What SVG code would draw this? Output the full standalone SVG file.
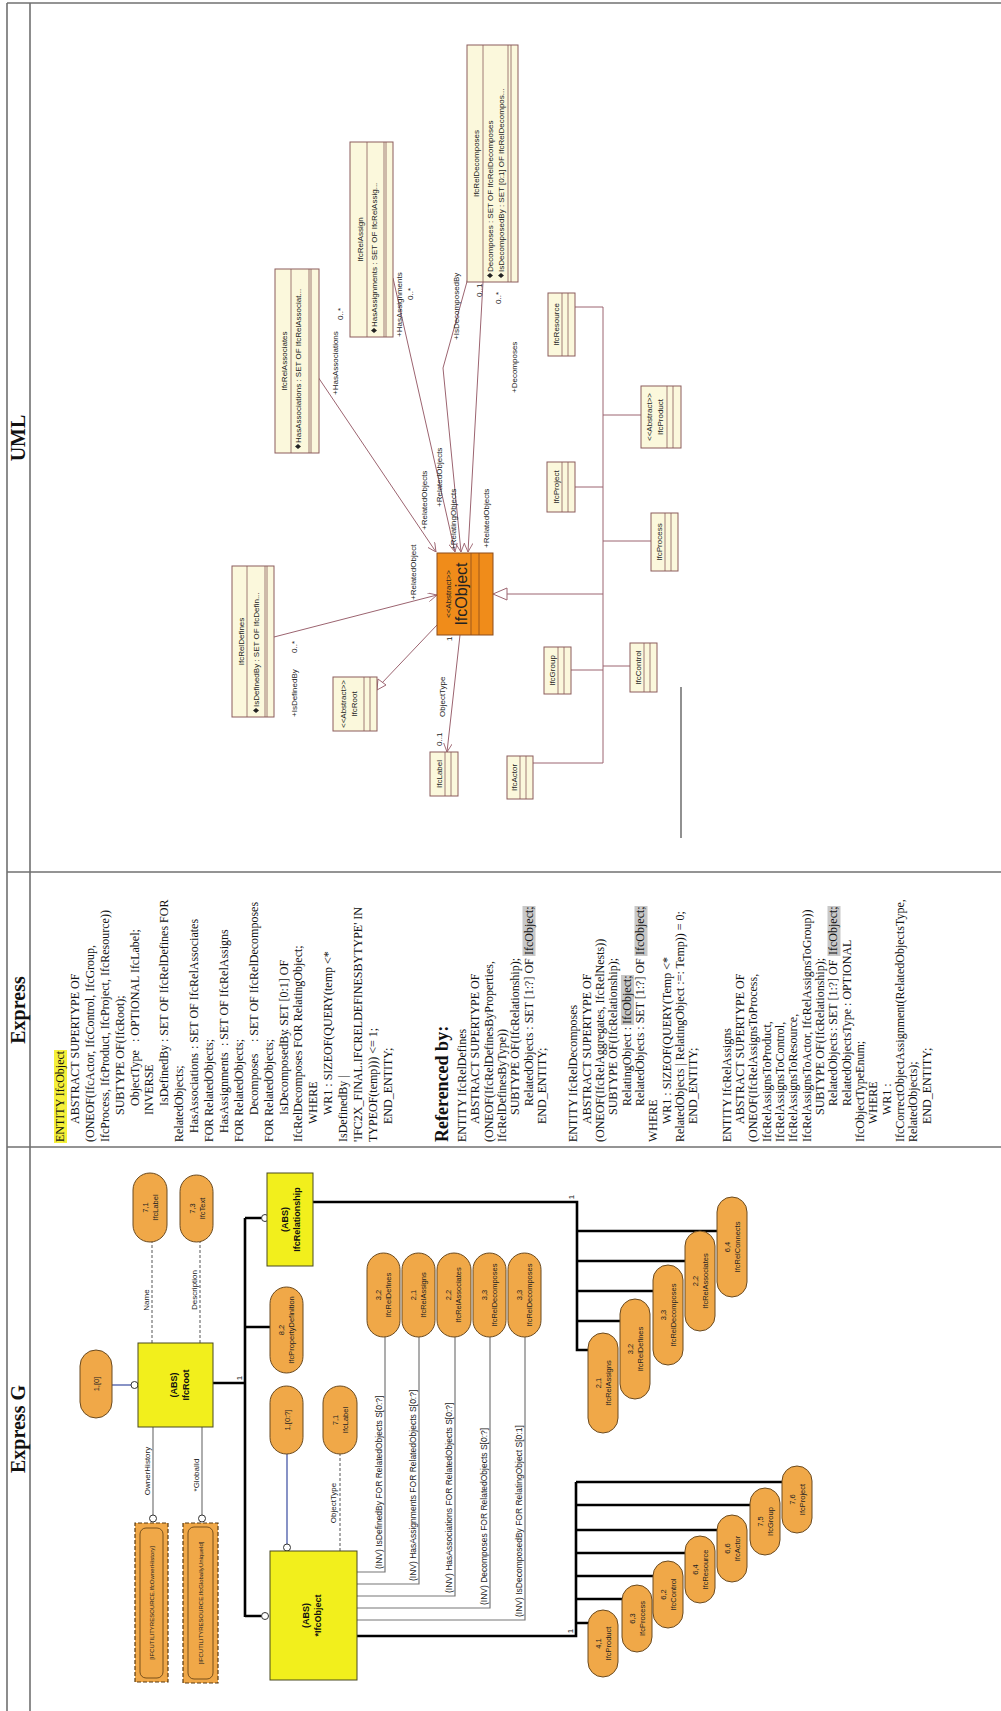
<svg xmlns="http://www.w3.org/2000/svg" width="1001" height="1711" viewBox="0 0 1001 1711">
<defs>
<style>
.fr{stroke:#707070;stroke-width:1.6;fill:none}
.hdr{font-family:"Liberation Serif",serif;font-weight:bold;font-size:20px;text-anchor:middle;fill:#111}
.ex{font-family:"Liberation Serif",serif;font-size:12px;fill:#111}
.ref{font-family:"Liberation Serif",serif;font-size:18px;font-weight:bold;fill:#111}
.yb{fill:#f2ef1c;stroke:#4a4a20;stroke-width:1}
.pill{fill:#f0a848;stroke:#6a4a20;stroke-width:1}
.dbox{fill:#f0a848;stroke:#5a3a10;stroke-width:1.2;stroke-dasharray:4 2}
.inr{fill:none;stroke:#5a3a10;stroke-width:0.8}
.thick{stroke:#000;stroke-width:2.6;fill:none}
.thin{stroke:#777;stroke-width:1.2;fill:none}
.blue{stroke:#4858a8;stroke-width:1.3;fill:none}
.dash{stroke:#555;stroke-width:1;stroke-dasharray:3 2;fill:none}
.circ{fill:#fff;stroke:#333;stroke-width:1}
.bt{font-family:"Liberation Sans",sans-serif;font-weight:bold;font-size:9px;text-anchor:middle;fill:#111}
.pt{font-family:"Liberation Sans",sans-serif;font-size:7.5px;text-anchor:middle;fill:#222}
.lt{font-family:"Liberation Sans",sans-serif;font-size:8px;text-anchor:middle;fill:#222}
.it{font-family:"Liberation Sans",sans-serif;font-size:8.5px;fill:#222}
.st{font-family:"Liberation Sans",sans-serif;font-size:6px;text-anchor:middle;fill:#222}
.uml{fill:#fbf8dc;stroke:#8c5c5c;stroke-width:1}
.uo{fill:#f08c1a;stroke:#8c4c1c;stroke-width:1}
.ud{stroke:#8c5c5c;stroke-width:0.8;fill:none}
.ul{stroke:#9c6470;stroke-width:1;fill:none}
.ut{font-family:"Liberation Sans",sans-serif;font-size:8px;fill:#222}
.utc{font-family:"Liberation Sans",sans-serif;font-size:8px;fill:#222;text-anchor:middle}
</style>
<marker id="oa" viewBox="0 0 10 10" refX="10" refY="5" markerWidth="9" markerHeight="9" orient="auto" markerUnits="userSpaceOnUse">
<path d="M0,0 L10,5 L0,10" fill="none" stroke="#9c6470" stroke-width="1"/>
</marker>
</defs>
<rect x="0" y="0" width="1001" height="1711" fill="#fff"/>
<g transform="translate(0,1711) rotate(-90)">

<g id="frame">
<line class="fr" x1="0" y1="7" x2="1708" y2="7"/>
<line class="fr" x1="0" y1="30" x2="1708" y2="30"/>
<line class="fr" x1="1708" y1="7" x2="1708" y2="1001"/>
<line class="fr" x1="564" y1="7" x2="564" y2="1001"/>
<line class="fr" x1="839" y1="7" x2="839" y2="1001"/>
<text class="hdr" x="282" y="25">Express G</text>
<text class="hdr" x="701" y="25">Express</text>
<text class="hdr" x="1273" y="25">UML</text>
</g>

<g id="expressg-connectors">
<path class="blue" d="M326,112 V131"/>
<circle class="circ" cx="326" cy="134.5" r="3.5"/>
<path class="dash" d="M368,152 H469"/>
<path class="dash" d="M368,200 H469"/>
<path class="thin" d="M284,153 H196"/>
<circle class="circ" cx="192.5" cy="153" r="3.5"/>
<path class="thin" d="M284,202 H196"/>
<circle class="circ" cx="192.5" cy="202" r="3.5"/>
<path class="thick" d="M328,213 V245 M94,245 H493 M493,245 V261.5 M384,245 V270 M95,245 V261.5"/>
<circle class="circ" cx="493" cy="265" r="3.5"/>
<circle class="circ" cx="95" cy="265" r="3.5"/>
<path class="thick" d="M509,313 V577 H361 V588 M390,577 V620 M420,577 V653 M450,577 V685 M480,577 V717"/>
<path class="blue" d="M257,287 H167"/>
<circle class="circ" cx="163.5" cy="287" r="3.5"/>
<path class="dash" d="M160,340 H257"/>
<path class="thin" d="M139,357 V385 H374 M127,357 V419 H374 M115,357 V455 H374 M103,357 V490 H374 M91,357 V525 H374"/>
<path class="thick" d="M75,357 V576 H229 M88,576 V588 M112,576 V622 M135,576 V653 M158,576 V685 M181,576 V717 M206,576 V750 M229,576 V782"/>
<text class="lt" x="240" y="150">OwnerHistory</text>
<text class="lt" x="236" y="199">*GlobalId</text>
<text class="lt" x="411" y="149">Name</text>
<text class="lt" x="421" y="197">Description</text>
<text class="lt" x="333" y="242">1</text>
<text class="lt" x="514" y="574">1</text>
<text class="lt" x="80" y="573">1</text>
<text class="lt" x="208" y="336">ObjectType</text>
<text class="it" x="142" y="382">(INV) IsDefinedBy  FOR  RelatedObjects   S[0:?]</text>
<text class="it" x="130" y="416">(INV) HasAssignments  FOR  RelatedObjects   S[0:?]</text>
<text class="it" x="118" y="452">(INV) HasAssociations  FOR  RelatedObjects   S[0:?]</text>
<text class="it" x="106" y="487">(INV) Decomposes  FOR  RelatedObjects   S[0:?]</text>
<text class="it" x="94" y="522">(INV) IsDecomposedBy  FOR  RelatingObject   S[0:1]</text>
</g>

<g id="eg-ifcroot"><rect class="yb" x="284" y="138" width="84" height="75"/><text class="bt" x="326" y="177">(ABS)</text><text class="bt" x="326" y="189">IfcRoot</text></g>
<g id="eg-root-ref"><rect class="pill" x="293" y="80" width="68" height="32" rx="16"/><text class="pt" x="327" y="99">1,[0]</text></g>
<g id="eg-label1"><rect class="pill" x="469" y="133" width="69" height="34" rx="17"/><text class="pt" x="503.5" y="148">7,1</text><text class="pt" x="503.5" y="158">IfcLabel</text></g>
<g id="eg-text"><rect class="pill" x="469" y="180" width="67" height="33" rx="16.5"/><text class="pt" x="502.5" y="195">7,3</text><text class="pt" x="502.5" y="205">IfcText</text></g>
<g id="eg-ownerhistory"><rect class="dbox" x="29" y="135" width="159" height="33"/><rect class="inr" x="33" y="140" width="150" height="23" rx="6"/><text class="st" x="108" y="154">[IFCUTILITYRESOURCE.IfcOwnerHistory]</text></g>
<g id="eg-globalid"><rect class="dbox" x="28" y="183" width="160" height="35"/><rect class="inr" x="32" y="188" width="152" height="25" rx="6"/><text class="st" x="108" y="203">[IFCUTILITYRESOURCE.IfcGloballyUniqueId]</text></g>
<g id="eg-ifcrelationship"><rect class="yb" x="445" y="267" width="93" height="46"/><text class="bt" x="491.5" y="288">(ABS)</text><text class="bt" x="491.5" y="300">IfcRelationship</text></g>
<g id="eg-propdef"><rect class="pill" x="338" y="270" width="86" height="33" rx="16.5"/><text class="pt" x="381" y="284">8,2</text><text class="pt" x="381" y="294">IfcPropertyDefinition</text></g>
<g id="eg-r-assigns"><rect class="pill" x="278" y="588" width="100" height="30" rx="15"/><text class="pt" x="328" y="601">2,1</text><text class="pt" x="328" y="611">IfcRelAssigns</text></g>
<g id="eg-r-defines"><rect class="pill" x="312" y="620" width="100" height="30" rx="15"/><text class="pt" x="362" y="633">3,2</text><text class="pt" x="362" y="643">IfcRelDefines</text></g>
<g id="eg-r-decomposes"><rect class="pill" x="346" y="653" width="100" height="30" rx="15"/><text class="pt" x="396" y="666">3,3</text><text class="pt" x="396" y="676">IfcRelDecomposes</text></g>
<g id="eg-r-associates"><rect class="pill" x="380" y="685" width="100" height="30" rx="15"/><text class="pt" x="430" y="698">2,2</text><text class="pt" x="430" y="708">IfcRelAssociates</text></g>
<g id="eg-r-connects"><rect class="pill" x="414" y="717" width="100" height="30" rx="15"/><text class="pt" x="464" y="730">6,4</text><text class="pt" x="464" y="740">IfcRelConnects</text></g>
<g id="eg-ifcobject"><rect class="yb" x="31" y="270" width="129" height="87"/><text class="bt" x="95.5" y="309">(ABS)</text><text class="bt" x="95.5" y="321">*IfcObject</text></g>
<g id="eg-obj-ref"><rect class="pill" x="257" y="270" width="68" height="33" rx="16.5"/><text class="pt" x="291" y="290">1,[0:?]</text></g>
<g id="eg-label2"><rect class="pill" x="257" y="323" width="68" height="34" rx="17"/><text class="pt" x="291" y="338">7,1</text><text class="pt" x="291" y="348">IfcLabel</text></g>
<g id="eg-inv-defines"><rect class="pill" x="374" y="367" width="84" height="33" rx="16.5"/><text class="pt" x="416" y="381">3,2</text><text class="pt" x="416" y="391">IfcRelDefines</text></g>
<g id="eg-inv-assigns"><rect class="pill" x="374" y="402" width="84" height="33" rx="16.5"/><text class="pt" x="416" y="416">2,1</text><text class="pt" x="416" y="426">IfcRelAssigns</text></g>
<g id="eg-inv-associates"><rect class="pill" x="374" y="437" width="84" height="34" rx="17"/><text class="pt" x="416" y="451">2,2</text><text class="pt" x="416" y="461">IfcRelAssociates</text></g>
<g id="eg-inv-decomposes1"><rect class="pill" x="374" y="473" width="84" height="33" rx="16.5"/><text class="pt" x="416" y="487">3,3</text><text class="pt" x="416" y="497">IfcRelDecomposes</text></g>
<g id="eg-inv-decomposes2"><rect class="pill" x="374" y="508" width="84" height="33" rx="16.5"/><text class="pt" x="416" y="522">3,3</text><text class="pt" x="416" y="532">IfcRelDecomposes</text></g>
<g id="eg-product"><rect class="pill" x="34" y="588" width="67" height="30" rx="15"/><text class="pt" x="67.5" y="601">4,1</text><text class="pt" x="67.5" y="611">IfcProduct</text></g>
<g id="eg-process"><rect class="pill" x="59" y="622" width="67" height="30" rx="15"/><text class="pt" x="92.5" y="635">6,3</text><text class="pt" x="92.5" y="645">IfcProcess</text></g>
<g id="eg-control"><rect class="pill" x="83" y="653" width="67" height="30" rx="15"/><text class="pt" x="116.5" y="666">6,2</text><text class="pt" x="116.5" y="676">IfcControl</text></g>
<g id="eg-resource"><rect class="pill" x="108" y="685" width="67" height="30" rx="15"/><text class="pt" x="141.5" y="698">6,4</text><text class="pt" x="141.5" y="708">IfcResource</text></g>
<g id="eg-actor"><rect class="pill" x="129" y="717" width="67" height="30" rx="15"/><text class="pt" x="162.5" y="730">6,6</text><text class="pt" x="162.5" y="740">IfcActor</text></g>
<g id="eg-group"><rect class="pill" x="156" y="750" width="67" height="30" rx="15"/><text class="pt" x="189.5" y="763">7,5</text><text class="pt" x="189.5" y="773">IfcGroup</text></g>
<g id="eg-project"><rect class="pill" x="178" y="782" width="67" height="30" rx="15"/><text class="pt" x="211.5" y="795">7,6</text><text class="pt" x="211.5" y="805">IfcProject</text></g>

<g id="express-text">
<rect x="568" y="54" width="93" height="13" fill="#f5f03a"/>
<rect x="755" y="522.5" width="50" height="13" fill="#c8c8c8"/>
<rect x="686" y="621" width="50" height="13" fill="#c8c8c8"/>
<rect x="755" y="634.5" width="50" height="13" fill="#c8c8c8"/>
<rect x="755" y="827.5" width="50" height="13" fill="#c8c8c8"/>
<text class="ex" x="569" y="64">ENTITY IfcObject</text>
<text class="ex" x="587" y="78.9">ABSTRACT SUPERTYPE OF</text>
<text class="ex" x="569" y="93.8">(ONEOF(IfcActor, IfcControl, IfcGroup,</text>
<text class="ex" x="569" y="108.7">IfcProcess, IfcProduct, IfcProject, IfcResource))</text>
<text class="ex" x="596" y="123.6">SUBTYPE OF(IfcRoot);</text>
<text class="ex" y="138.5"><tspan x="605">ObjectType</tspan><tspan x="669">: OPTIONAL IfcLabel;</tspan></text>
<text class="ex" x="596" y="153.4">INVERSE</text>
<text class="ex" y="168.3"><tspan x="605">IsDefinedBy</tspan><tspan x="669">: SET OF IfcRelDefines FOR</tspan></text>
<text class="ex" x="569" y="183.2">RelatedObjects;</text>
<text class="ex" y="198.1"><tspan x="578">HasAssociations</tspan><tspan x="662">: SET OF IfcRelAssociates</tspan></text>
<text class="ex" x="569" y="213">FOR RelatedObjects;</text>
<text class="ex" y="227.9"><tspan x="578">HasAssignments</tspan><tspan x="665">: SET OF IfcRelAssigns</tspan></text>
<text class="ex" x="569" y="242.8">FOR RelatedObjects;</text>
<text class="ex" y="257.7"><tspan x="596">Decomposes</tspan><tspan x="669">: SET OF IfcRelDecomposes</tspan></text>
<text class="ex" x="569" y="272.6">FOR RelatedObjects;</text>
<text class="ex" y="287.5"><tspan x="596">IsDecomposedBy</tspan><tspan x="679">: SET [0:1] OF</tspan></text>
<text class="ex" x="569" y="302.4">IfcRelDecomposes FOR RelatingObject;</text>
<text class="ex" x="587" y="317.3">WHERE</text>
<text class="ex" x="596" y="332.2">WR1 : SIZEOF(QUERY(temp &lt;*</text>
<text class="ex" x="569" y="347.1">IsDefinedBy |</text>
<text class="ex" x="569" y="362">'IFC2X_FINAL.IFCRELDEFINESBYTYPE' IN</text>
<text class="ex" x="569" y="376.9">TYPEOF(temp))) &lt;= 1;</text>
<text class="ex" x="587" y="391.8">END_ENTITY;</text>
<text class="ref" x="569" y="448">Referenced by:</text>
<text class="ex" x="569" y="466">ENTITY IfcRelDefines</text>
<text class="ex" x="587" y="479.3">ABSTRACT SUPERTYPE OF</text>
<text class="ex" x="569" y="492.7">(ONEOF(IfcRelDefinesByProperties,</text>
<text class="ex" x="569" y="506">IfcRelDefinesByType))</text>
<text class="ex" x="596" y="519.3">SUBTYPE OF(IfcRelationship);</text>
<text class="ex" y="532.7"><tspan x="605">RelatedObjects : SET [1:?] OF </tspan><tspan x="756">IfcObject;</tspan></text>
<text class="ex" x="587" y="546">END_ENTITY;</text>
<text class="ex" x="569" y="577.3">ENTITY IfcRelDecomposes</text>
<text class="ex" x="587" y="590.7">ABSTRACT SUPERTYPE OF</text>
<text class="ex" x="569" y="604">(ONEOF(IfcRelAggregates, IfcRelNests))</text>
<text class="ex" x="596" y="617.3">SUBTYPE OF(IfcRelationship);</text>
<text class="ex" y="630.7"><tspan x="605">RelatingObject : </tspan><tspan x="687">IfcObject;</tspan></text>
<text class="ex" y="644"><tspan x="605">RelatedObjects : SET [1:?] OF </tspan><tspan x="756">IfcObject;</tspan></text>
<text class="ex" x="569" y="657.3">WHERE</text>
<text class="ex" x="587" y="670.7">WR1 : SIZEOF(QUERY(Temp &lt;*</text>
<text class="ex" x="569" y="684">RelatedObjects | RelatingObject :=: Temp)) = 0;</text>
<text class="ex" x="587" y="697.3">END_ENTITY;</text>
<text class="ex" x="569" y="730.7">ENTITY IfcRelAssigns</text>
<text class="ex" x="587" y="744">ABSTRACT SUPERTYPE OF</text>
<text class="ex" x="569" y="757.3">(ONEOF(IfcRelAssignsToProcess,</text>
<text class="ex" x="569" y="770.7">IfcRelAssignsToProduct,</text>
<text class="ex" x="569" y="784">IfcRelAssignsToControl,</text>
<text class="ex" x="569" y="797.3">IfcRelAssignsToResource,</text>
<text class="ex" x="569" y="810.7">IfcRelAssignsToActor, IfcRelAssignsToGroup))</text>
<text class="ex" x="596" y="824">SUBTYPE OF(IfcRelationship);</text>
<text class="ex" y="837.3"><tspan x="605">RelatedObjects</tspan><tspan x="680">: SET [1:?] OF </tspan><tspan x="756">IfcObject;</tspan></text>
<text class="ex" x="605" y="850.7">RelatedObjectsType : OPTIONAL</text>
<text class="ex" x="569" y="864">IfcObjectTypeEnum;</text>
<text class="ex" x="587" y="877.3">WHERE</text>
<text class="ex" x="596" y="890.7">WR1 :</text>
<text class="ex" x="569" y="904">IfcCorrectObjectAssignment(RelatedObjectsType,</text>
<text class="ex" x="569" y="917.3">RelatedObjects);</text>
<text class="ex" x="587" y="930.7">END_ENTITY;</text>
</g>

<g id="uml-connectors">
<polyline class="ul" points="1433,468 1343,443 1159,461" marker-end="url(#oa)"/>
<line class="ul" x1="1429" y1="483" x2="1159" y2="468" marker-end="url(#oa)"/>
<line class="ul" x1="1433" y1="393" x2="1159" y2="455" marker-end="url(#oa)"/>
<line class="ul" x1="1334" y1="318" x2="1159" y2="436" marker-end="url(#oa)"/>
<line class="ul" x1="1074" y1="274" x2="1116" y2="437" marker-end="url(#oa)"/>
<line class="ul" x1="1086" y1="437" x2="1027" y2="381"/>
<polygon points="1021,377 1032,378 1026,386" fill="#fff" stroke="#9c6470"/>
<line class="ul" x1="1076" y1="460" x2="959" y2="447" marker-end="url(#oa)"/>
<line class="ul" x1="1117" y1="507" x2="1117" y2="603"/>
<polygon points="1117,493 1111,507 1123,507" fill="#fff" stroke="#9c6470"/>
<path class="ul" d="M1404,603 H948 M1404,575 V603 M1296,603 V641 M1224,575 V603 M1170,603 V651 M1041,571 V603 M1045,603 V630 M948,533 V603"/>
<line x1="873" y1="681" x2="1024" y2="681" stroke="#555" stroke-width="1.3"/>
<text class="ut" x="1371" y="459">+IsDecomposedBy</text>
<text class="ut" x="1414" y="482">0..1</text>
<text class="ut" x="1407" y="501">0..*</text>
<text class="ut" x="1318" y="517">+Decomposes</text>
<text class="ut" x="1161" y="456">+RelatingObjects</text>
<text class="ut" x="1163" y="489">+RelatedObjects</text>
<text class="ut" x="1374" y="402">+HasAssignments</text>
<text class="ut" x="1411" y="413">0..*</text>
<text class="ut" x="1316" y="338">+HasAssociations</text>
<text class="ut" x="1391" y="343">0..*</text>
<text class="ut" x="1181" y="427">+RelatedObjects</text>
<text class="ut" x="1204" y="442">+RelatedObjects</text>
<text class="ut" x="1111" y="416">+RelatedObject</text>
<text class="ut" x="994" y="297">+IsDefinedBy</text>
<text class="ut" x="1058" y="297">0..*</text>
<text class="ut" x="994" y="445">ObjectType</text>
<text class="ut" x="1070" y="452">1</text>
<text class="ut" x="965" y="442">0..1</text>
</g>

<g id="uml-reldecomposes"><rect class="uml" x="1429" y="467" width="237" height="51"/><line class="ud" x1="1429" y1="483" x2="1666" y2="483"/><line class="ud" x1="1429" y1="508" x2="1666" y2="508"/><line class="ud" x1="1429" y1="511" x2="1666" y2="511"/><text class="utc" x="1547.5" y="479">IfcRelDecomposes</text><polygon points="1433,490 1435.5,487 1438,490 1435.5,493" fill="#222"/><text class="ut" x="1439" y="493">Decomposes      : SET OF IfcRelDecomposes</text><polygon points="1433,501 1435.5,498 1438,501 1435.5,504" fill="#222"/><text class="ut" x="1439" y="504">IsDecomposedBy : SET [0:1] OF IfcRelDecompos...</text></g>
<g id="uml-relassign"><rect class="uml" x="1374" y="350" width="195" height="43"/><line class="ud" x1="1374" y1="367" x2="1569" y2="367"/><line class="ud" x1="1374" y1="384" x2="1569" y2="384"/><line class="ud" x1="1374" y1="386" x2="1569" y2="386"/><text class="utc" x="1471.5" y="363">IfcRelAssign</text><polygon points="1378,374 1380.5,371 1383,374 1380.5,377" fill="#222"/><text class="ut" x="1384" y="377">HasAssignments : SET OF IfcRelAssig...</text></g>
<g id="uml-relassociates"><rect class="uml" x="1258" y="275" width="184" height="44"/><line class="ud" x1="1258" y1="291" x2="1442" y2="291"/><line class="ud" x1="1258" y1="309" x2="1442" y2="309"/><line class="ud" x1="1258" y1="311" x2="1442" y2="311"/><text class="utc" x="1350" y="287">IfcRelAssociates</text><polygon points="1262,298 1264.5,295 1267,298 1264.5,301" fill="#222"/><text class="ut" x="1268" y="301">HasAssociations : SET OF IfcRelAssociat...</text></g>
<g id="uml-reldefines"><rect class="uml" x="994" y="232" width="151" height="42"/><line class="ud" x1="994" y1="247" x2="1145" y2="247"/><line class="ud" x1="994" y1="265" x2="1145" y2="265"/><line class="ud" x1="994" y1="267" x2="1145" y2="267"/><text class="utc" x="1069.5" y="244">IfcRelDefines</text><polygon points="998,256 1000.5,253 1003,256 1000.5,259" fill="#222"/><text class="ut" x="1004" y="259">IsDefinedBy : SET OF IfcDefin...</text></g>
<g id="uml-ifcobject"><rect class="uo" x="1076" y="437" width="82" height="56"/><line stroke="#8c4c1c" stroke-width="0.8" x1="1076" y1="471" x2="1158" y2="471"/><line stroke="#8c4c1c" stroke-width="0.8" x1="1076" y1="479" x2="1158" y2="479"/><text class="utc" x="1117" y="451" font-size="7.5">&lt;&lt;Abstract&gt;&gt;</text><text class="utc" x="1117" y="467" style="font-size:16px">IfcObject</text></g>
<g id="uml-ifcroot"><rect class="uml" x="980" y="333" width="54" height="44"/><line class="ud" x1="980" y1="364" x2="1034" y2="364"/><line class="ud" x1="980" y1="370" x2="1034" y2="370"/><text class="utc" x="1007" y="346">&lt;&lt;Abstract&gt;&gt;</text><text class="utc" x="1007" y="357">IfcRoot</text></g>
<g id="uml-ifclabel"><rect class="uml" x="915" y="430" width="44" height="28"/><line class="ud" x1="915" y1="445" x2="959" y2="445"/><line class="ud" x1="915" y1="451" x2="959" y2="451"/><text class="utc" x="937" y="442">IfcLabel</text></g>
<g id="uml-resource"><rect class="uml" x="1355" y="548" width="63" height="27"/><line class="ud" x1="1355" y1="562" x2="1418" y2="562"/><line class="ud" x1="1355" y1="568" x2="1418" y2="568"/><text class="utc" x="1386.5" y="559">IfcResource</text></g>
<g id="uml-product"><rect class="uml" x="1263" y="641" width="62" height="40"/><line class="ud" x1="1263" y1="667" x2="1325" y2="667"/><line class="ud" x1="1263" y1="673" x2="1325" y2="673"/><text class="utc" x="1294" y="652">&lt;&lt;Abstract&gt;&gt;</text><text class="utc" x="1294" y="663">IfcProduct</text></g>
<g id="uml-project"><rect class="uml" x="1199" y="547" width="50" height="28"/><line class="ud" x1="1199" y1="562" x2="1249" y2="562"/><line class="ud" x1="1199" y1="568" x2="1249" y2="568"/><text class="utc" x="1224" y="559">IfcProject</text></g>
<g id="uml-process"><rect class="uml" x="1140" y="651" width="58" height="27"/><line class="ud" x1="1140" y1="665" x2="1198" y2="665"/><line class="ud" x1="1140" y1="671" x2="1198" y2="671"/><text class="utc" x="1169" y="662">IfcProcess</text></g>
<g id="uml-group"><rect class="uml" x="1017" y="544" width="47" height="27"/><line class="ud" x1="1017" y1="558" x2="1064" y2="558"/><line class="ud" x1="1017" y1="564" x2="1064" y2="564"/><text class="utc" x="1040.5" y="555">IfcGroup</text></g>
<g id="uml-control"><rect class="uml" x="1019" y="630" width="49" height="27"/><line class="ud" x1="1019" y1="644" x2="1068" y2="644"/><line class="ud" x1="1019" y1="650" x2="1068" y2="650"/><text class="utc" x="1043.5" y="641">IfcControl</text></g>
<g id="uml-actor"><rect class="uml" x="912" y="507" width="43" height="26"/><line class="ud" x1="912" y1="520" x2="955" y2="520"/><line class="ud" x1="912" y1="526" x2="955" y2="526"/><text class="utc" x="933.5" y="517">IfcActor</text></g>

</g>
</svg>
